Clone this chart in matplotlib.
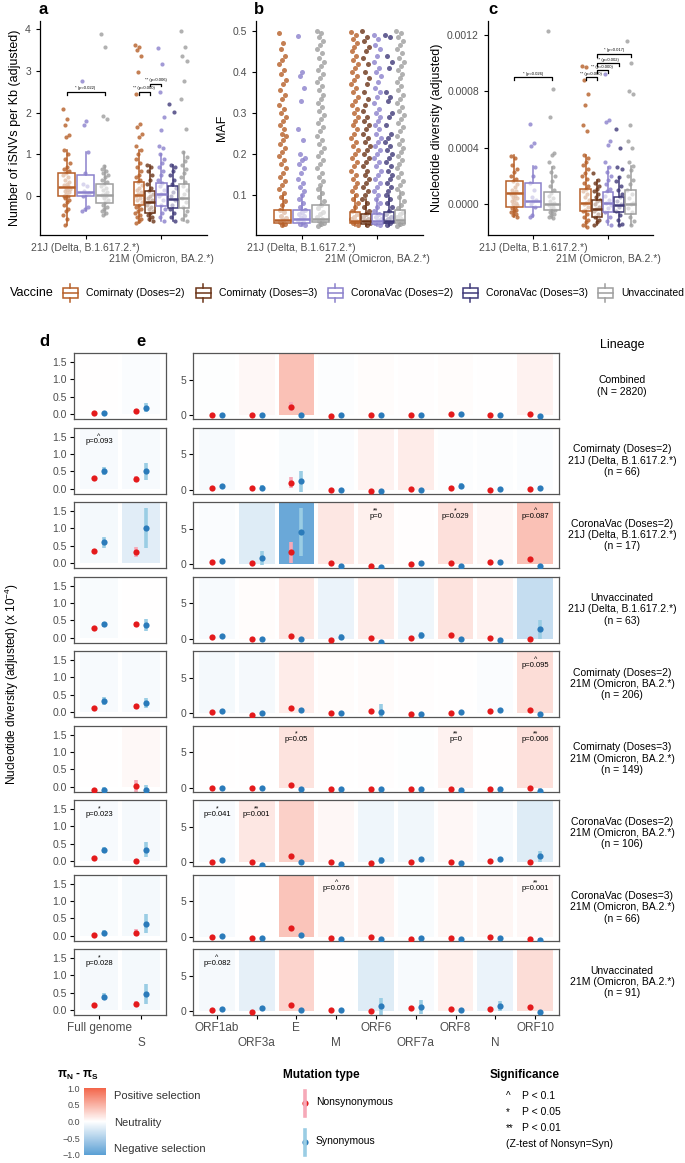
import numpy as np
import matplotlib.pyplot as plt
from matplotlib.colors import LinearSegmentedColormap, Normalize
from matplotlib.cm import ScalarMappable
from matplotlib.patches import Rectangle

plt.rcParams['font.family'] = ['Liberation Sans', 'DejaVu Sans']
plt.rcParams['mathtext.fontset'] = 'custom'
plt.rcParams['mathtext.rm'] = 'Liberation Sans'
plt.rcParams['mathtext.bf'] = 'Liberation Sans:bold'

# ---------------- data: top panels ----------------
vaccines = ['Comirnaty (Doses=2)', 'Comirnaty (Doses=3)', 'CoronaVac (Doses=2)',
            'CoronaVac (Doses=3)', 'Unvaccinated']
vacc_colors = ['#B65F28', '#6B3418', '#8B81CC', '#403A79', '#9E9E9E']
lineage_ticks = ['21J (Delta, B.1.617.2.*)', '21M (Omicron, BA.2.*)']
delta_groups = [0, 2, 4]
omicron_groups = [0, 1, 2, 3, 4]

# panel a: iSNVs per Kb (adjusted)
a_delta = [
    [2.1, 1.85, 1.7, 1.47, 1.43, 1.1, 1.0, 0.9, 0.8, 0.7, 0.65, 0.6, 0.55, 0.5, 0.45, 0.4, 0.35, 0.3, 0.28,
     0.25, 0.2, 0.18, 0.15, 0.12, 0.1, 0.05, 0.0, 0.0, -0.05, -0.1, -0.15, -0.2, -0.3, -0.35, -0.45, -0.55, -0.7],
    [2.75, 1.8, 1.7, 1.07, 0.55, 0.3, 0.25, 0.12, 0.08, 0.05, 0.0, -0.25, -0.3, -0.35],
    [3.9, 3.58, 1.92, 1.85, 0.72, 0.65, 0.6, 0.55, 0.5, 0.45, 0.4, 0.35, 0.3, 0.25, 0.2, 0.15, 0.1, 0.05,
     0.02, 0.0, -0.05, -0.1, -0.15, -0.2, -0.25, -0.3, -0.35, -0.4, -0.45],
]
a_omicron = [
    [3.62, 3.58, 3.5, 3.35, 2.97, 2.45, 1.73, 1.65, 1.5, 1.42, 1.2, 1.1, 1.0, 0.9, 0.8, 0.7, 0.6, 0.5, 0.45,
     0.4, 0.33, 0.28, 0.2, 0.15, 0.1, 0.05, 0.0, -0.05, -0.1, -0.15, -0.2, -0.25, -0.3, -0.35, -0.4, -0.45,
     -0.5, -0.55, -0.6, -0.65],
    [0.75, 0.7, 0.6, 0.5, 0.4, 0.3, 0.2, 0.13, 0.05, 0.0, -0.05, -0.1, -0.15, -0.2, -0.25, -0.3, -0.35, -0.4,
     -0.45, -0.5, -0.55, -0.6],
    [3.55, 3.17, 2.5, 1.9, 1.58, 1.2, 1.15, 1.0, 0.9, 0.8, 0.7, 0.6, 0.5, 0.4, 0.32, 0.25, 0.15, 0.05, 0.0,
     -0.1, -0.2, -0.3, -0.4, -0.5, -0.6],
    [2.22, 2.02, 0.75, 0.7, 0.6, 0.5, 0.4, 0.3, 0.2, 0.1, 0.0, -0.1, -0.2, -0.3, -0.4, -0.5, -0.6],
    [3.95, 3.57, 3.36, 3.25, 2.76, 2.34, 1.62, 1.07, 0.95, 0.85, 0.75, 0.65, 0.55, 0.45, 0.35, 0.25, 0.15,
     0.05, -0.05, -0.15, -0.25, -0.35, -0.45, -0.55, -0.6],
]
# box stats: (whisker low, q1, median, q3, whisker high)
a_delta_box = [(-0.7, 0.0, 0.21, 0.56, 1.1), (-0.35, 0.0, 0.1, 0.52, 1.07), (-0.45, -0.17, 0.04, 0.3, 0.72)]
a_omicron_box = [(-0.65, -0.2, 0.03, 0.33, 1.1), (-0.6, -0.4, -0.13, 0.13, 0.75), (-0.6, -0.24, 0.05, 0.32, 1.0),
                 (-0.6, -0.29, -0.06, 0.24, 0.75), (-0.6, -0.29, -0.04, 0.29, 1.07)]

# panel b: MAF
b_delta = [
    [0.495, 0.47, 0.455, 0.44, 0.43, 0.42, 0.405, 0.395, 0.38, 0.37, 0.355, 0.345, 0.335, 0.32, 0.31, 0.3,
     0.29, 0.28, 0.27, 0.26, 0.25, 0.245, 0.235, 0.225, 0.215, 0.205, 0.195, 0.185, 0.175, 0.165, 0.155,
     0.145, 0.135, 0.125, 0.115, 0.105, 0.095, 0.085, 0.075, 0.065, 0.058, 0.05, 0.045, 0.04, 0.035, 0.03, 0.027],
    [0.487, 0.4, 0.39, 0.36, 0.33, 0.26, 0.235, 0.2, 0.19, 0.185, 0.175, 0.165, 0.155, 0.14, 0.13, 0.12,
     0.11, 0.1, 0.09, 0.08, 0.07, 0.065, 0.06, 0.055, 0.05, 0.045, 0.04, 0.035, 0.03, 0.027],
    [0.5, 0.495, 0.485, 0.475, 0.465, 0.455, 0.445, 0.435, 0.425, 0.415, 0.405, 0.395, 0.385, 0.375, 0.365,
     0.355, 0.345, 0.335, 0.325, 0.315, 0.305, 0.295, 0.285, 0.275, 0.265, 0.255, 0.245, 0.235, 0.225,
     0.215, 0.205, 0.195, 0.185, 0.175, 0.165, 0.155, 0.145, 0.135, 0.125, 0.115, 0.105, 0.095, 0.085,
     0.075, 0.068, 0.06, 0.053, 0.047, 0.042, 0.037, 0.033, 0.029, 0.026],
]
b_omicron = [
    [0.498, 0.49, 0.48, 0.47, 0.46, 0.45, 0.44, 0.43, 0.42, 0.41, 0.4, 0.39, 0.38, 0.37, 0.36, 0.35, 0.34,
     0.33, 0.32, 0.31, 0.3, 0.29, 0.28, 0.27, 0.26, 0.25, 0.24, 0.23, 0.22, 0.21, 0.2, 0.19, 0.18, 0.17,
     0.16, 0.15, 0.14, 0.13, 0.12, 0.11, 0.1, 0.09, 0.08, 0.07, 0.062, 0.055, 0.048, 0.042, 0.036, 0.031, 0.027],
    [0.5, 0.485, 0.475, 0.46, 0.45, 0.435, 0.42, 0.4, 0.385, 0.37, 0.35, 0.335, 0.32, 0.305, 0.29, 0.28,
     0.27, 0.26, 0.25, 0.24, 0.23, 0.22, 0.21, 0.2, 0.19, 0.18, 0.17, 0.16, 0.15, 0.14, 0.13, 0.12, 0.11,
     0.1, 0.09, 0.08, 0.07, 0.062, 0.055, 0.048, 0.042, 0.036, 0.031, 0.027],
    [0.49, 0.48, 0.465, 0.455, 0.44, 0.425, 0.41, 0.4, 0.39, 0.375, 0.36, 0.35, 0.34, 0.325, 0.31, 0.3,
     0.29, 0.28, 0.27, 0.26, 0.25, 0.24, 0.23, 0.22, 0.21, 0.2, 0.19, 0.18, 0.17, 0.16, 0.15, 0.14, 0.13,
     0.12, 0.11, 0.1, 0.09, 0.08, 0.07, 0.062, 0.055, 0.048, 0.042, 0.036, 0.031, 0.027],
    [0.49, 0.485, 0.44, 0.425, 0.41, 0.35, 0.34, 0.33, 0.3, 0.29, 0.27, 0.25, 0.24, 0.23, 0.22, 0.21, 0.2,
     0.19, 0.18, 0.17, 0.16, 0.15, 0.14, 0.13, 0.12, 0.11, 0.1, 0.09, 0.08, 0.07, 0.062, 0.055, 0.048,
     0.042, 0.036, 0.031, 0.027],
    [0.5, 0.495, 0.485, 0.475, 0.465, 0.455, 0.445, 0.435, 0.425, 0.415, 0.405, 0.395, 0.385, 0.375, 0.365,
     0.355, 0.345, 0.335, 0.325, 0.315, 0.305, 0.295, 0.285, 0.275, 0.265, 0.255, 0.245, 0.235, 0.225,
     0.215, 0.205, 0.195, 0.185, 0.175, 0.165, 0.155, 0.145, 0.135, 0.125, 0.115, 0.105, 0.095, 0.085,
     0.075, 0.068, 0.06, 0.053, 0.047, 0.042, 0.037, 0.033, 0.029, 0.026],
]
b_delta_box = [(0.025, 0.031, 0.039, 0.064, 0.1), (0.025, 0.033, 0.041, 0.063, 0.1), (0.025, 0.034, 0.043, 0.075, 0.12)]
b_omicron_box = [(0.025, 0.031, 0.038, 0.06, 0.1), (0.025, 0.03, 0.036, 0.055, 0.09), (0.025, 0.03, 0.037, 0.055, 0.09),
                 (0.025, 0.031, 0.038, 0.058, 0.1), (0.025, 0.032, 0.039, 0.065, 0.11)]

# panel c: nucleotide diversity, in units of 1e-4
c_delta = [
    [3.4, 3.3, 2.8, 2.5, 2.3, 2.0, 1.8, 1.6, 1.4, 1.2, 1.0, 0.9, 0.8, 0.7, 0.6, 0.5, 0.4, 0.3, 0.2, 0.1, 0.0,
     -0.1, -0.2, -0.3, -0.4, -0.5, -0.6, -0.7, -0.8, -0.9],
    [5.7, 4.3, 4.1, 2.6, 2.0, 1.5, 1.0, 0.5, 0.3, 0.2, 0.0, -0.2, -0.8, -0.9],
    [12.3, 8.2, 6.2, 3.6, 3.5, 3.0, 2.6, 2.3, 2.0, 1.6, 1.3, 1.0, 0.8, 0.6, 0.4, 0.2, 0.1, 0.0, -0.1, -0.2,
     -0.3, -0.4, -0.5, -0.6, -0.7, -0.8, -0.9, -1.0],
]
c_omicron = [
    [9.8, 9.7, 8.8, 7.8, 7.0, 5.6, 5.2, 3.5, 3.3, 3.0, 2.8, 2.5, 2.2, 2.0, 1.8, 1.5, 1.3, 1.1, 0.9, 0.7, 0.5,
     0.3, 0.1, 0.0, -0.2, -0.4, -0.5, -0.7, -0.9, -1.1, -1.3, -1.5, -1.6],
    [2.2, 1.7, 1.5, 1.3, 1.1, 0.9, 0.7, 0.5, 0.3, 0.2, 0.0, -0.2, -0.35, -0.5, -0.7, -0.9, -1.1, -1.3, -1.5],
    [9.2, 6.0, 5.8, 4.5, 4.2, 3.0, 2.6, 2.3, 2.0, 1.7, 1.4, 1.1, 0.9, 0.6, 0.3, 0.1, -0.1, -0.3, -0.6, -0.9,
     -1.2, -1.5],
    [5.3, 4.0, 2.6, 2.5, 1.9, 1.6, 1.3, 1.0, 0.7, 0.5, 0.2, 0.0, -0.2, -0.5, -0.8, -1.1, -1.4, -1.5],
    [11.6, 10.0, 8.0, 7.8, 5.6, 4.5, 4.0, 3.0, 2.7, 2.4, 2.0, 1.7, 1.4, 1.0, 0.7, 0.4, 0.1, 0.0, -0.3, -0.6,
     -0.9, -1.2, -1.5],
]
c_delta_box = [(-0.9, -0.2, 0.8, 1.62, 3.5), (-0.9, -0.24, 0.24, 1.46, 2.7), (-1.0, -0.4, 0.0, 0.82, 2.6)]
c_omicron_box = [(-1.6, -0.5, 0.1, 1.06, 3.5), (-1.5, -0.9, -0.35, 0.3, 1.7), (-1.5, -0.56, 0.1, 0.87, 2.6),
                 (-1.5, -0.56, -0.05, 0.5, 1.9), (-1.5, -0.7, 0.0, 1.0, 2.7)]

# significance brackets: (lineage, group a, group b, y, label)
a_brackets = [(0, 0, 4, 2.5, '* (p=0.022)'), (1, 0, 1, 2.5, '** (p=0.000)'), (1, 1, 2, 2.7, '** (p=0.006)')]
c_brackets = [(0, 0, 4, 9.0, '* (p=0.026)'), (1, 0, 1, 9.0, '** (p=0.000)'), (1, 1, 2, 9.5, '** (p=0.000)'),
              (1, 1, 3, 10.0, '** (p=0.002)'), (1, 1, 4, 10.65, '* (p=0.017)')]

# ---------------- data: panels d / e ----------------
genes_d = ['Full genome', 'S']
genes_e = ['ORF1ab', 'ORF3a', 'E', 'M', 'ORF6', 'ORF7a', 'ORF8', 'N', 'ORF10']
row_labels = ['Combined\n(N = 2820)',
              'Comirnaty (Doses=2)\n21J (Delta, B.1.617.2.*)\n(n = 66)',
              'CoronaVac (Doses=2)\n21J (Delta, B.1.617.2.*)\n(n = 17)',
              'Unvaccinated\n21J (Delta, B.1.617.2.*)\n(n = 63)',
              'Comirnaty (Doses=2)\n21M (Omicron, BA.2.*)\n(n = 206)',
              'Comirnaty (Doses=3)\n21M (Omicron, BA.2.*)\n(n = 149)',
              'CoronaVac (Doses=2)\n21M (Omicron, BA.2.*)\n(n = 106)',
              'CoronaVac (Doses=3)\n21M (Omicron, BA.2.*)\n(n = 66)',
              'Unvaccinated\n21M (Omicron, BA.2.*)\n(n = 91)']

d_nonsyn = [[0.03, 0.10], [0.30, 0.27], [0.35, 0.32], [0.29, 0.38], [0.12, 0.17],
            [-0.11, 0.02], [0.08, 0.01], [0.01, 0.09], [0.14, 0.19]]
d_syn = [[0.04, 0.18], [0.50, 0.50], [0.60, 1.02], [0.39, 0.36], [0.32, 0.27],
         [-0.11, -0.09], [0.32, 0.33], [0.09, 0.34], [0.39, 0.47]]
d_nonsyn_err = [[0.02, 0.05], [0.04, 0.08], [0.05, 0.15], [0.03, 0.08], [0.03, 0.07],
                [0.05, 0.18], [0.03, 0.05], [0.02, 0.1], [0.03, 0.07]]
d_syn_err = [[0.02, 0.13], [0.12, 0.24], [0.16, 0.58], [0.07, 0.17], [0.12, 0.15],
             [0.1, 0.15], [0.1, 0.22], [0.06, 0.27], [0.1, 0.28]]
d_fill = [[0.0, -0.03], [-0.05, -0.05], [-0.07, -0.18], [-0.04, 0.0], [-0.05, -0.05],
          [0.0, 0.04], [-0.05, -0.06], [-0.04, -0.07], [-0.06, -0.07]]

e_nonsyn = [[0.0, 0.05, 1.2, -0.1, 0.0, 0.0, 0.2, 0.05, 0.1],
            [0.3, 0.3, 1.0, -0.1, -0.2, 0.05, 0.3, 0.0, 0.1],
            [0.3, 0.1, 1.7, 0.2, -0.27, 0.0, 0.2, 0.33, 0.7],
            [0.25, 0.0, 0.43, -0.15, 0.05, 0.15, 0.57, 0.1, -0.05],
            [0.1, -0.24, 0.76, 0.05, 0.24, -0.19, -0.05, 0.24, 0.43],
            [-0.1, -0.1, 0.43, -0.24, -0.14, -0.19, -0.24, -0.14, 0.0],
            [0.05, 0.0, 0.9, -0.05, -0.14, 0.0, 0.0, 0.19, 0.0],
            [0.0, -0.24, 1.19, -0.19, -0.1, -0.33, -0.14, -0.1, -0.33],
            [0.1, -0.14, 0.86, 0.1, 0.0, 0.48, 0.33, 0.33, 0.52]]
e_syn = [[0.0, -0.05, 0.05, -0.05, -0.05, -0.05, 0.15, 0.05, -0.15],
         [0.5, 0.3, 1.2, -0.05, -0.2, -0.1, 0.5, 0.1, 0.25],
         [0.5, 0.9, 4.6, -0.2, -0.4, 0.1, -0.3, 0.33, -0.3],
         [0.4, 0.0, 0.0, 0.3, -0.43, 0.5, -0.05, -0.25, 1.3],
         [0.33, 0.0, 0.48, 0.0, 0.14, -0.14, 0.1, 0.38, -0.14],
         [-0.1, -0.1, -0.14, -0.24, -0.14, -0.14, -0.38, -0.14, -0.43],
         [0.33, -0.38, 0.05, -0.24, 0.29, 0.38, -0.19, 0.48, 0.81],
         [0.1, -0.24, 0.19, -0.33, -0.33, -0.24, -0.33, -0.24, -0.48],
         [0.33, 0.48, 0.1, 0.1, 0.71, 0.62, 0.1, 0.76, -0.19]]
e_nonsyn_err = [[0.05, 0.1, 0.6, 0.1, 0.1, 0.1, 0.1, 0.1, 0.2],
                [0.1, 0.1, 0.8, 0.1, 0.1, 0.1, 0.15, 0.1, 0.1],
                [0.1, 0.1, 1.5, 0.1, 0.1, 0.1, 0.1, 0.1, 0.3],
                [0.1, 0.1, 0.15, 0.1, 0.1, 0.1, 0.15, 0.1, 0.1],
                [0.1, 0.1, 0.2, 0.1, 0.1, 0.1, 0.1, 0.1, 0.15],
                [0.1, 0.1, 0.2, 0.1, 0.1, 0.1, 0.1, 0.1, 0.1],
                [0.1, 0.1, 0.2, 0.1, 0.1, 0.1, 0.1, 0.1, 0.1],
                [0.1, 0.1, 0.25, 0.1, 0.1, 0.1, 0.1, 0.1, 0.1],
                [0.1, 0.1, 0.2, 0.1, 0.1, 0.15, 0.1, 0.1, 0.15]]
e_syn_err = [[0.05, 0.1, 0.15, 0.1, 0.1, 0.1, 0.1, 0.1, 0.1],
             [0.15, 0.3, 1.5, 0.1, 0.1, 0.1, 0.4, 0.15, 0.3],
             [0.1, 1.0, 3.4, 0.2, 0.2, 0.3, 0.2, 0.3, 0.2],
             [0.15, 0.1, 0.1, 0.4, 0.1, 0.5, 0.1, 0.1, 1.4],
             [0.15, 0.1, 0.2, 0.1, 1.1, 0.1, 0.1, 0.15, 0.1],
             [0.1, 0.1, 0.1, 0.1, 0.1, 0.1, 0.3, 0.1, 0.4],
             [0.15, 0.1, 0.1, 0.1, 0.5, 0.4, 0.1, 0.3, 0.8],
             [0.1, 0.1, 0.1, 0.1, 0.1, 0.1, 0.1, 0.1, 0.3],
             [0.15, 0.3, 0.1, 0.1, 1.2, 1.0, 0.1, 0.7, 0.1]]
e_fill = [[-0.01, 0.05, 0.4, -0.02, 0.02, 0.01, 0.02, 0.0, 0.08],
          [-0.05, 0.0, -0.04, -0.03, 0.08, 0.12, -0.02, -0.02, -0.03],
          [-0.03, -0.2, -0.9, 0.15, 0.1, 0.01, 0.2, 0.05, 0.4],
          [-0.05, 0.02, 0.15, -0.12, 0.13, -0.1, 0.18, 0.08, -0.35],
          [-0.07, -0.06, 0.12, 0.02, 0.03, 0.01, 0.0, -0.03, 0.22],
          [0.0, 0.0, 0.18, 0.0, 0.01, -0.01, 0.08, 0.0, 0.2],
          [-0.05, 0.15, 0.3, 0.05, -0.1, -0.08, 0.05, -0.05, -0.2],
          [-0.05, 0.0, 0.38, 0.07, 0.08, -0.04, 0.06, 0.06, 0.05],
          [-0.06, -0.15, 0.28, 0.0, -0.2, -0.05, 0.1, -0.12, 0.22]]

# (row, gene index, p text, significance symbol)
d_pvals = [(1, 0, 'p=0.093', '^'), (6, 0, 'p=0.023', '*'), (8, 0, 'p=0.028', '*')]
e_pvals = [(2, 4, 'p=0', '**'), (2, 6, 'p=0.029', '*'), (2, 8, 'p=0.087', '^'),
           (4, 8, 'p=0.095', '^'), (5, 2, 'p=0.05', '*'), (5, 6, 'p=0', '**'), (5, 8, 'p=0.006', '**'),
           (6, 0, 'p=0.041', '*'), (6, 1, 'p=0.001', '**'), (7, 3, 'p=0.076', '^'), (7, 8, 'p=0.001', '**'),
           (8, 0, 'p=0.082', '^')]

# ---------------- figure ----------------
W, H = 685, 1163
fig = plt.figure(figsize=(W / 100, H / 100), dpi=100)
TXT = '#4D4D4D'


def add_ax(x0, y0, x1, y1):
    return fig.add_axes([x0 / W, 1 - y1 / H, (x1 - x0) / W, (y1 - y0) / H])


def jitter(n):
    return (np.arange(n) * 0.6180339887) % 1.0 - 0.5


def stagger_labels(ax, labels, size, pad, extra):
    # every second label on a lower line (like ggplot n.dodge = 2)
    ax.set_xticklabels(labels, fontsize=size, color=TXT)
    for i, t in enumerate(ax.xaxis.get_major_ticks()):
        t.set_pad(pad + (extra if i % 2 else 0))


delta_off = [-0.25, 0.0, 0.25]
omicron_off = [-0.3, -0.15, 0.0, 0.15, 0.3]


def group_pos(lin, g):
    if lin == 0:
        return 1 + delta_off[delta_groups.index(g)], 0.22
    return 2 + omicron_off[omicron_groups.index(g)], 0.135


def top_panel(ax, pts_d, pts_o, box_d, box_o, scale, msize, jw):
    for lin, (pts, boxes, groups) in enumerate([(pts_d, box_d, delta_groups), (pts_o, box_o, omicron_groups)]):
        for vals, st, g in zip(pts, boxes, groups):
            x, w = group_pos(lin, g)
            vals = np.array(vals) * scale
            ax.scatter(x + jitter(len(vals)) * jw, vals, s=msize, color=vacc_colors[g],
                       alpha=0.8, lw=0, zorder=1)
            stats = [dict(whislo=st[0] * scale, q1=st[1] * scale, med=st[2] * scale,
                          q3=st[3] * scale, whishi=st[4] * scale)]
            ax.bxp(stats, positions=[x], widths=w, showfliers=False, patch_artist=True,
                   manage_ticks=False,
                   boxprops=dict(facecolor=(1, 1, 1, 0.6), edgecolor=vacc_colors[g], linewidth=1.1),
                   medianprops=dict(color=vacc_colors[g], linewidth=1.8),
                   whiskerprops=dict(color=vacc_colors[g], linewidth=1.1),
                   capprops=dict(linewidth=0), zorder=2)
    ax.set_xlim(0.4, 2.6)
    ax.set_xticks([1, 2])
    stagger_labels(ax, lineage_ticks, 7.5, 3, 8)
    for s in ['top', 'right']:
        ax.spines[s].set_visible(False)
    for s in ['left', 'bottom']:
        ax.spines[s].set_linewidth(0.9)
    ax.tick_params(labelsize=7.5, labelcolor=TXT, length=3, width=0.8)


def brackets(ax, items, scale, tip):
    for lin, g1, g2, y, lab in items:
        x1, _ = group_pos(lin, g1)
        x2, _ = group_pos(lin, g2)
        y = y * scale
        ax.plot([x1, x1, x2, x2], [y - tip, y, y, y - tip], color='black', lw=0.9, zorder=3)
        ax.text((x1 + x2) / 2, y + tip * 0.6, lab, ha='center', va='bottom', fontsize=3, zorder=3)


ax_a = add_ax(40, 21, 207, 235)
top_panel(ax_a, a_delta, a_omicron, a_delta_box, a_omicron_box, 1.0, 9, 0.09)
ax_a.set_ylim(-0.93, 4.2)
ax_a.set_yticks([0, 1, 2, 3, 4])
brackets(ax_a, a_brackets, 1.0, 0.07)
ax_a.set_ylabel('Number of iSNVs per Kb (adjusted)', fontsize=9, labelpad=3)

ax_b = add_ax(256, 21, 423, 235)
top_panel(ax_b, b_delta, b_omicron, b_delta_box, b_omicron_box, 1.0, 13, 0.1)
ax_b.set_ylim(0.003, 0.524)
ax_b.set_yticks([0.1, 0.2, 0.3, 0.4, 0.5])
ax_b.set_ylabel('MAF', fontsize=9, labelpad=3)

ax_c = add_ax(488, 21, 653, 235)
top_panel(ax_c, c_delta, c_omicron, c_delta_box, c_omicron_box, 1e-4, 9, 0.09)
ax_c.set_ylim(-0.00022, 0.0013)
ax_c.set_yticks([0, 0.0004, 0.0008, 0.0012])
ax_c.set_yticklabels(['0.0000', '0.0004', '0.0008', '0.0012'])
brackets(ax_c, c_brackets, 1e-4, 0.00002)
ax_c.set_ylabel('Nucleotide diversity (adjusted)', fontsize=9, labelpad=3)

# ---------------- panels d / e ----------------
cmap = LinearSegmentedColormap.from_list('sel', ['#5A9FD4', '#FFFFFF', '#F3654A'])
norm = Normalize(-1, 1)
RED, BLUE = '#E41A1C', '#2B7BBA'
PINK, LBLUE = '#F6A9B8', '#9ACDE4'

row_h = 66
row_tops = [353 + 74.5 * i for i in range(9)]


def gene_panel(ax, genes, nonsyn, syn, n_err, s_err, fill, off):
    x = np.arange(1, len(genes) + 1)
    ax.bar(x, 100, bottom=0, width=0.9, color=cmap(norm(np.array(fill))), zorder=0)
    ax.vlines(x - off, np.array(nonsyn) - np.array(n_err), np.array(nonsyn) + np.array(n_err),
              color=PINK, lw=2.6, zorder=2)
    ax.vlines(x + off, np.array(syn) - np.array(s_err), np.array(syn) + np.array(s_err),
              color=LBLUE, lw=2.6, zorder=2)
    ax.scatter(x - off, nonsyn, s=20, color=RED, lw=0, zorder=3)
    ax.scatter(x + off, syn, s=20, color=BLUE, lw=0, zorder=3)
    ax.set_xlim(0.4, len(genes) + 0.6)
    for s in ax.spines.values():
        s.set_color('#555555')
        s.set_linewidth(0.9)
    ax.tick_params(labelsize=7.5, labelcolor=TXT, length=3, width=0.8, pad=2)


d_axes, e_axes = [], []
for r in range(9):
    top = row_tops[r]
    axd = add_ax(74, top, 166, top + row_h)
    gene_panel(axd, genes_d, d_nonsyn[r], d_syn[r], d_nonsyn_err[r], d_syn_err[r], d_fill[r], 0.12)
    axd.set_ylim(-0.14, 1.76)
    axd.set_yticks([0, 0.5, 1.0, 1.5])
    axd.set_yticklabels(['0.0', '0.5', '1.0', '1.5'])
    axe = add_ax(193, top, 559, top + row_h)
    gene_panel(axe, genes_e, e_nonsyn[r], e_syn[r], e_nonsyn_err[r], e_syn_err[r], e_fill[r], 0.125)
    axe.set_ylim(-0.55, 8.8)
    axe.set_yticks([0, 5])
    for ax, genes in [(axd, genes_d), (axe, genes_e)]:
        ax.set_xticks(np.arange(1, len(genes) + 1))
        if r == 8:
            stagger_labels(ax, genes, 8.5, 2, 11)
        else:
            ax.tick_params(axis='x', length=0, labelbottom=False)
    d_axes.append(axd)
    e_axes.append(axe)

for r, gi, ptxt, sym in d_pvals:
    d_axes[r].text(gi + 1, 1.35, ptxt, ha='center', va='center', fontsize=5.5, zorder=4)
    d_axes[r].text(gi + 1, 1.5, sym, ha='center', va='center', fontsize=5, zorder=4)
for r, gi, ptxt, sym in e_pvals:
    e_axes[r].text(gi + 1, 6.8, ptxt, ha='center', va='center', fontsize=5.5, zorder=4)
    e_axes[r].text(gi + 1, 7.6, sym, ha='center', va='center', fontsize=5, zorder=4)

# ---------------- overlay: labels and legends ----------------
lay = fig.add_axes([0, 0, 1, 1], zorder=-1)
lay.set_xlim(0, W)
lay.set_ylim(H, 0)
lay.axis('off')

for tag, x, y in [('a', 43, 10), ('b', 259, 10), ('c', 493, 10), ('d', 44, 342), ('e', 141, 342)]:
    lay.text(x, y, tag, fontsize=12, fontweight='bold', ha='center', va='center')

for r in range(9):
    lay.text(622, row_tops[r] + row_h / 2, row_labels[r], ha='center', va='center', fontsize=7.5,
             linespacing=1.15)
lay.text(622, 345, 'Lineage', ha='center', va='center', fontsize=9)
lay.text(12, 684, r'Nucleotide diversity (adjusted) (x 10$^{-4}$)', rotation=90, ha='center',
         va='center', fontsize=8.5)

# vaccine legend
lay.text(10, 293, 'Vaccine', fontsize=9, va='center')
key_x = [63, 196, 328, 463, 598]
for g, kx in enumerate(key_x):
    c = vacc_colors[g]
    lay.add_patch(Rectangle((kx, 288), 15, 10, facecolor='white', edgecolor=c, lw=1.1))
    lay.plot([kx, kx + 15], [293, 293], color=c, lw=1.1)
    lay.plot([kx + 7.5, kx + 7.5], [284, 288], color=c, lw=1.1)
    lay.plot([kx + 7.5, kx + 7.5], [298, 302], color=c, lw=1.1)
    lay.text(kx + 23, 293, vaccines[g], fontsize=7.5, va='center')

# colour legend
lay.text(57, 1075, r'$\mathbf{\pi_N}$ - $\mathbf{\pi_S}$', fontsize=8.5, fontweight='bold', va='center')
cax = add_ax(84, 1088, 106, 1155)
cb = fig.colorbar(ScalarMappable(norm=norm, cmap=cmap), cax=cax, ticks=[-1, -0.5, 0, 0.5, 1])
cb.outline.set_visible(False)
cax.yaxis.set_ticks_position('left')
cax.set_yticklabels(['\u22121.0', '\u22120.5', '0.0', '0.5', '1.0'])
cax.tick_params(labelsize=6.5, labelcolor=TXT, length=0, pad=3)
for txt, y in [('Positive selection', 1096), ('Neutrality', 1123), ('Negative selection', 1149)]:
    lay.text(114, y, txt, fontsize=8, color='#333333', va='center')

# mutation type legend
lay.text(283, 1075, 'Mutation type', fontsize=8.5, fontweight='bold', va='center')
lay.plot([305, 305], [1091, 1116], color=PINK, lw=2.6)
lay.scatter([305], [1103], s=20, color=RED, lw=0)
lay.text(316, 1102, 'Nonsynonymous', fontsize=7.5, va='center')
lay.plot([305, 305], [1130, 1155], color=LBLUE, lw=2.6)
lay.scatter([305], [1142], s=20, color=BLUE, lw=0)
lay.text(316, 1141, 'Synonymous', fontsize=7.5, va='center')

# significance legend
lay.text(490, 1075, 'Significance', fontsize=8.5, fontweight='bold', va='center')
for sym, txt, y in [('^', 'P < 0.1', 1096), ('*', 'P < 0.05', 1112), ('**', 'P < 0.01', 1128)]:
    lay.text(506, y, sym, fontsize=7, va='center')
    lay.text(522, y, txt, fontsize=7.5, va='center')
lay.text(506, 1144, '(Z-test of Nonsyn=Syn)', fontsize=7.5, va='center')

fig.savefig('out.png', dpi=100)
